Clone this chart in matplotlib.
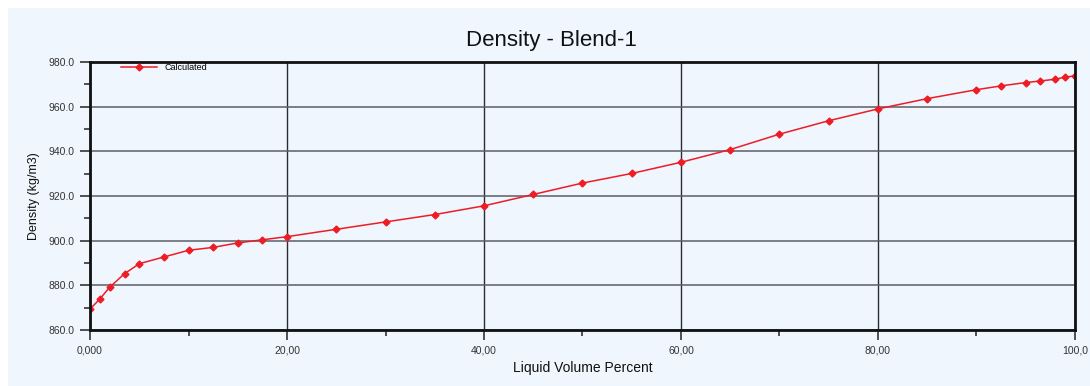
import matplotlib
matplotlib.use('Agg')
import matplotlib.pyplot as plt
from matplotlib.ticker import FixedLocator
from matplotlib.patches import Rectangle

plt.rcParams['font.family'] = ['Liberation Sans', 'DejaVu Sans']

# Verileri resimden okuyalim
hacim = [0, 1, 2, 3.5, 5, 7.5, 10, 12.5, 15, 17.5, 20, 25, 30, 35, 40, 45, 50, 55,
         60, 65, 70, 75, 80, 85, 90, 92.5, 95, 96.5, 98, 99, 100]
yogunluk = [869.4, 873.9, 879.2, 885.2, 889.7, 892.7, 895.7, 897.0, 899.0, 900.4,
            901.8, 905.1, 908.4, 911.7, 915.6, 920.7, 925.8, 930.1, 935.1, 940.8,
            947.7, 953.7, 959.0, 963.6, 967.6, 969.3, 970.8, 971.5, 972.3, 973.2, 973.8]
x_etiketler = ['0,000', '20,00', '40,00', '60,00', '80,00', '100,0']
y_etiketler = ['860.0', '880.0', '900.0', '920.0', '940.0', '960.0', '980.0']

fig = plt.figure(figsize=(10.9, 3.86), dpi=100)
fig.patch.set_facecolor('white')
fig.patches.append(Rectangle((0.007, 0.0), 0.993, 0.979, transform=fig.transFigure,
                             facecolor='#eff6fd', edgecolor='none', zorder=-10))

ax = fig.add_axes([0.0826, 0.145, 0.9036, 0.6944])
ax.set_facecolor('#eff6fd')

ax.plot(hacim, yogunluk, color='#ee1c25', linewidth=1.1, marker='D', markersize=3.5,
        label='Calculated')

ax.set_xlim(0, 100)
ax.set_ylim(860, 980)
ax.xaxis.set_major_locator(FixedLocator([0, 20, 40, 60, 80, 100]))
ax.xaxis.set_minor_locator(FixedLocator([10, 30, 50, 70, 90]))
ax.yaxis.set_major_locator(FixedLocator([860, 880, 900, 920, 940, 960, 980]))
ax.yaxis.set_minor_locator(FixedLocator([870, 890, 910, 930, 950, 970]))
ax.set_xticklabels(x_etiketler)
ax.set_yticklabels(y_etiketler)

ax.tick_params(axis='both', which='major', direction='out', length=7, width=1.2,
               labelsize=7.5, colors='#333333', pad=4)
ax.tick_params(axis='both', which='minor', direction='out', length=4, width=1.2,
               colors='#333333')
ax.grid(True, axis='y', color='#5a5f66', linewidth=1.1)
ax.grid(True, axis='x', color='#2a2e33', linewidth=1.0)
ax.set_axisbelow(True)

for kenar in ax.spines.values():
    kenar.set_color('#111111')
    kenar.set_linewidth(2.0)

# Baslik figurun ortasinda
fig.text(0.5055, 0.881, 'Density - Blend-1', fontsize=16, color='#111111',
         ha='center', va='baseline')
ax.set_xlabel('Liquid Volume Percent', fontsize=10, color='#111111', labelpad=4)
ax.set_ylabel('Density (kg/m3)', fontsize=9, color='#111111', labelpad=6)

leg = ax.legend(loc='center left', bbox_to_anchor=(0.028, 0.978), frameon=False,
                fontsize=6.5, handlelength=4, borderaxespad=0)

fig.savefig('out.png', dpi=100, facecolor=fig.get_facecolor())
